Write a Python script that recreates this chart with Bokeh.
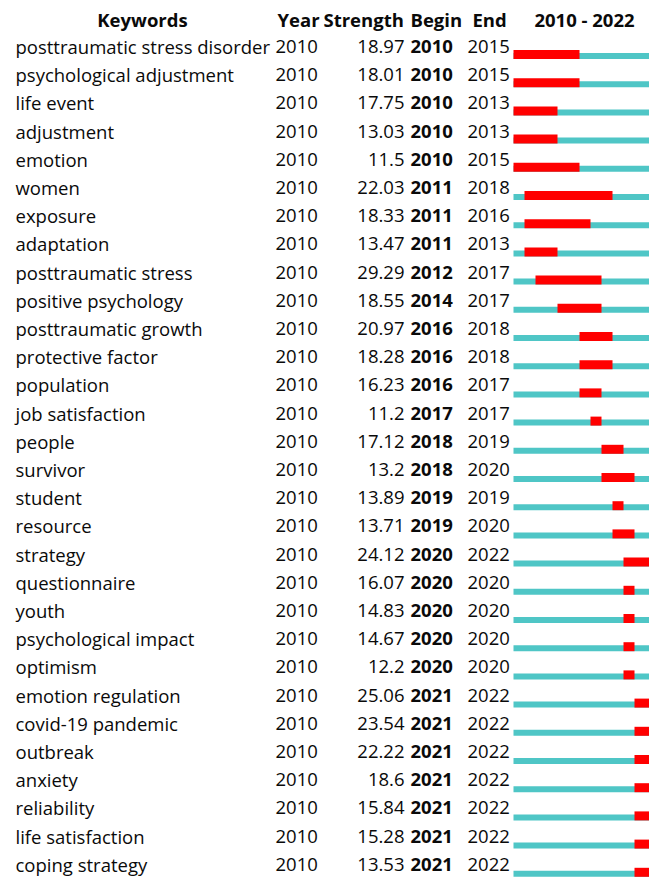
from bokeh.plotting import figure
from bokeh.models import ColumnDataSource, Range1d
from bokeh.core.properties import value
from bokeh.embed import file_html
from bokeh.resources import INLINE

keywords = ["posttraumatic stress disorder", "psychological adjustment", "life event", "adjustment",
            "emotion", "women", "exposure", "adaptation", "posttraumatic stress", "positive psychology",
            "posttraumatic growth", "protective factor", "population", "job satisfaction", "people",
            "survivor", "student", "resource", "strategy", "questionnaire", "youth",
            "psychological impact", "optimism", "emotion regulation", "covid-19 pandemic", "outbreak",
            "anxiety", "reliability", "life satisfaction", "coping strategy"]
years = [2010] * 30
strengths = [18.97, 18.01, 17.75, 13.03, 11.5, 22.03, 18.33, 13.47, 29.29, 18.55,
             20.97, 18.28, 16.23, 11.2, 17.12, 13.2, 13.89, 13.71, 24.12, 16.07,
             14.83, 14.67, 12.2, 25.06, 23.54, 22.22, 18.6, 15.84, 15.28, 13.53]
begins = [2010, 2010, 2010, 2010, 2010, 2011, 2011, 2011, 2012, 2014,
          2016, 2016, 2016, 2017, 2018, 2018, 2019, 2019, 2020, 2020,
          2020, 2020, 2020, 2021, 2021, 2021, 2021, 2021, 2021, 2021]
ends = [2015, 2015, 2013, 2013, 2015, 2018, 2016, 2013, 2017, 2017,
        2018, 2018, 2017, 2017, 2019, 2020, 2019, 2020, 2022, 2020,
        2020, 2020, 2020, 2022, 2022, 2022, 2022, 2022, 2022, 2022]
headers = ["Keywords", "Year", "Strength", "Begin", "End", "2010 - 2022"]
span_start, span_end = 2010, 2022

W, H = 649, 878
FONT = "Open Sans"
FS = "18.5px"

# layout (pixel space)
row0, row_h = 46.0, 28.2
head_y = 19.0
x_kw, x_year, x_str_r, x_begin, x_end = 15, 275, 404, 410, 467
bar_x0, year_w = 513, 11.0

n = len(keywords)
ys = [row0 + i * row_h for i in range(n)]

p = figure(width=W, height=H, output_backend="svg", toolbar_location=None,
           x_range=Range1d(0, W), y_range=Range1d(H, 0), min_border=0)
p.axis.visible = False
p.grid.visible = False
p.outline_line_color = None
p.background_fill_color = "white"
p.border_fill_color = "white"

src = ColumnDataSource(dict(
    kw=keywords, yr=[str(y) for y in years], st=[f"{s:g}" for s in strengths],
    bg=[str(b) for b in begins], en=[str(e) for e in ends], y=ys,
    tl=[bar_x0] * n, tr=[bar_x0 + (span_end - span_start + 1) * year_w] * n,
    tt=[y + 6.5 for y in ys], tb=[y + 12.5 for y in ys],
    rl=[bar_x0 + (b - span_start) * year_w for b in begins],
    rr=[bar_x0 + (e - span_start + 1) * year_w for e in ends],
    rt=[y + 3.5 for y in ys], rb=[y + 12.5 for y in ys],
))

p.quad(left="tl", right="tr", top="tt", bottom="tb", source=src,
       fill_color="#4fc6c6", line_color=None)
p.quad(left="rl", right="rr", top="rt", bottom="rb", source=src,
       fill_color="#ff0000", line_color=None)

common = dict(source=src, y="y", text_baseline="middle", text_font=value(FONT),
              text_font_size=FS, text_color="#0a0a0a")
p.text(x=x_kw, text="kw", text_align="left", **common)
p.text(x=x_year, text="yr", text_align="left", **common)
p.text(x=x_str_r, text="st", text_align="right", **common)
p.text(x=x_begin, text="bg", text_align="left", text_font_style="bold", **common)
p.text(x=x_end, text="en", text_align="left", **common)

hsrc = ColumnDataSource(dict(
    x=[142, 277, 323, 410, 472, 584], y=[head_y] * 6, t=headers,
    a=["center", "left", "left", "left", "left", "center"]))
p.text(x="x", y="y", text="t", text_align="a", source=hsrc, text_baseline="middle",
       text_font=value(FONT), text_font_size=FS, text_font_style="bold", text_color="#0a0a0a")

open("out.html", "w").write(file_html(p, INLINE))
